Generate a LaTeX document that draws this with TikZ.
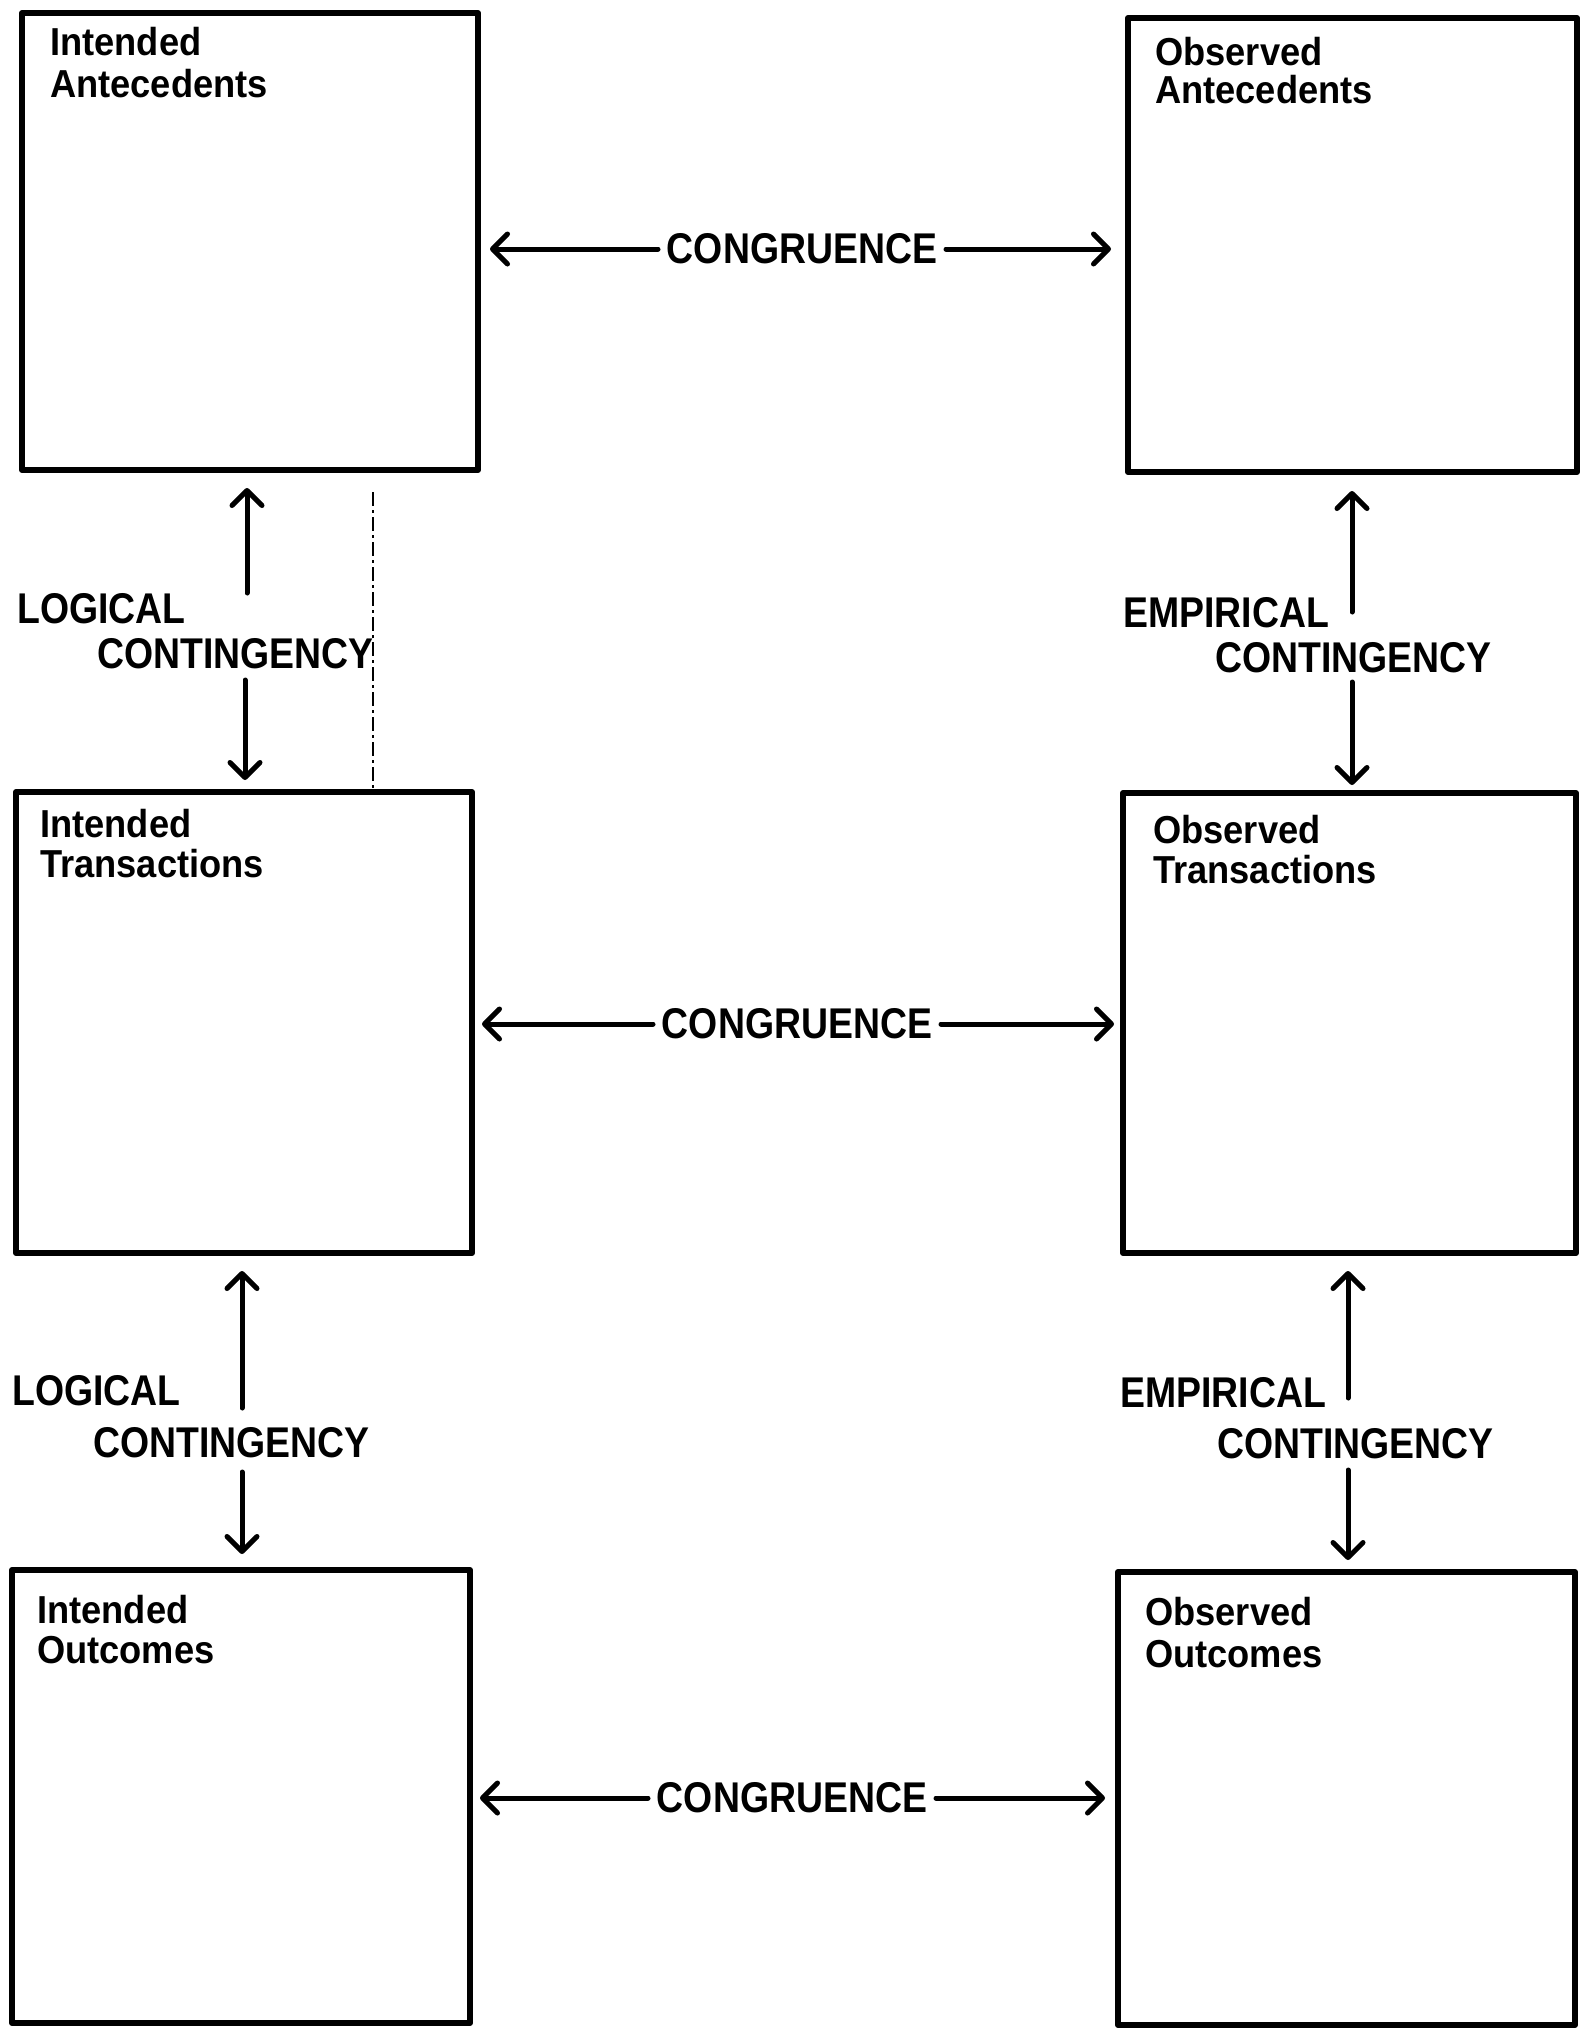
\documentclass[tikz,border=0pt]{standalone}
\usepackage{fontspec}
\usetikzlibrary{arrows.meta}
\newfontfamily\titlefont[FakeStretch=0.93]{Liberation Sans}
\newfontfamily\labfont[FakeStretch=0.87]{Liberation Sans}
\begin{document}
\begin{tikzpicture}[x=1pt,y=-1pt,
  box/.style={draw, line width=6pt, line join=round, inner sep=0pt},
  ttl/.style={anchor=base west, inner sep=0pt, font=\titlefont\bfseries\fontsize{39}{42}\selectfont},
  lab/.style={anchor=base west, inner sep=0pt, font=\labfont\bfseries\fontsize{43}{46}\selectfont},
  cong/.style={inner sep=0pt, outer sep=0pt, minimum width=288pt, font=\labfont\bfseries\fontsize{43}{46}\selectfont},
  arr/.style={line width=5pt, line cap=round, -{Straight Barb[length=15pt,width=30pt,line cap=round,line join=round]}}
]
\useasboundingbox (0,0) rectangle (1582,2032);
\fill[white] (0,0) rectangle (1582,2032);

% boxes
\node[box, minimum width=456pt, minimum height=457pt] (ia) at (250,241.5) {};
\node[box, minimum width=449pt, minimum height=454pt] (oa) at (1352.5,245) {};
\node[box, minimum width=456pt, minimum height=461pt] (it) at (244,1022.5) {};
\node[box, minimum width=453pt, minimum height=460pt] (ot) at (1349.5,1023) {};
\node[box, minimum width=458pt, minimum height=453pt] (io) at (241,1796.5) {};
\node[box, minimum width=457pt, minimum height=453pt] (oo) at (1346.5,1798.5) {};

% box titles
\node[ttl] (iat1) at (50,55) {Intended};
\node[ttl] (iat2) at (50,97) {Antecedents};
\node[ttl] (oat1) at (1155,65) {Observed};
\node[ttl] (oat2) at (1155,103) {Antecedents};
\node[ttl] (itt1) at (40,837) {Intended};
\node[ttl] (itt2) at (40,877) {Transactions};
\node[ttl] (ott1) at (1153,843) {Observed};
\node[ttl] (ott2) at (1153,883) {Transactions};
\node[ttl] (iot1) at (37,1623) {Intended};
\node[ttl] (iot2) at (37,1663) {Outcomes};
\node[ttl] (oot1) at (1145,1625) {Observed};
\node[ttl] (oot2) at (1145,1667) {Outcomes};

% congruence labels and arrows
\node[cong] (cg1) at (802,249) {CONGRUENCE};
\node[cong] (cg2) at (797,1024) {CONGRUENCE};
\node[cong] (cg3) at (792,1798) {CONGRUENCE};
\draw[arr, shorten >=9pt] (cg1.west) -- (ia.east |- cg1.west);
\draw[arr, shorten >=14pt] (cg1.east) -- (oa.west |- cg1.east);
\draw[arr, shorten >=7pt] (cg2.west) -- (it.east |- cg2.west);
\draw[arr, shorten >=6pt] (cg2.east) -- (ot.west |- cg2.east);
\draw[arr, shorten >=7pt] (cg3.west) -- (io.east |- cg3.west);
\draw[arr, shorten >=10pt] (cg3.east) -- (oo.west |- cg3.east);

% contingency labels
\node[lab] (lc1a) at (17,623) {LOGICAL};
\node[lab] (lc1b) at (97,668) {CONTINGENCY};
\node[lab] (ec1a) at (1123,627) {EMPIRICAL};
\node[lab] (ec1b) at (1215,672) {CONTINGENCY};
\node[lab] (lc2a) at (12,1405) {LOGICAL};
\node[lab] (lc2b) at (93,1457) {CONTINGENCY};
\node[lab] (ec2a) at (1120,1407) {EMPIRICAL};
\node[lab] (ec2b) at (1217,1458) {CONTINGENCY};

% contingency arrows
\coordinate (l1u) at (247,593);
\coordinate (l1d) at (245,680);
\coordinate (r1u) at (1352,612);
\coordinate (r1d) at (1352,682);
\coordinate (l2u) at (242,1408);
\coordinate (l2d) at (242,1472);
\coordinate (r2u) at (1348,1398);
\coordinate (r2d) at (1348,1470);
\draw[arr, shorten >=15pt] (l1u) -- (l1u |- ia.south);
\draw[arr, shorten >=9pt] (l1d) -- (l1d |- it.north);
\draw[arr, shorten >=16pt] (r1u) -- (r1u |- oa.south);
\draw[arr, shorten >=5pt] (r1d) -- (r1d |- ot.north);
\draw[arr, shorten >=15pt] (l2u) -- (l2u |- it.south);
\draw[arr, shorten >=13pt] (l2d) -- (l2d |- io.north);
\draw[arr, shorten >=15pt] (r2u) -- (r2u |- ot.south);
\draw[arr, shorten >=9pt] (r2d) -- (r2d |- oo.north);

% faint vertical dashed mark between the upper left boxes
\coordinate (m1) at (373,492);
\coordinate (m2) at (373,790);
\draw[line width=1.5pt, dash pattern=on 14pt off 4pt on 3pt off 4pt] (m1) -- (m2);
\end{tikzpicture}
\end{document}
